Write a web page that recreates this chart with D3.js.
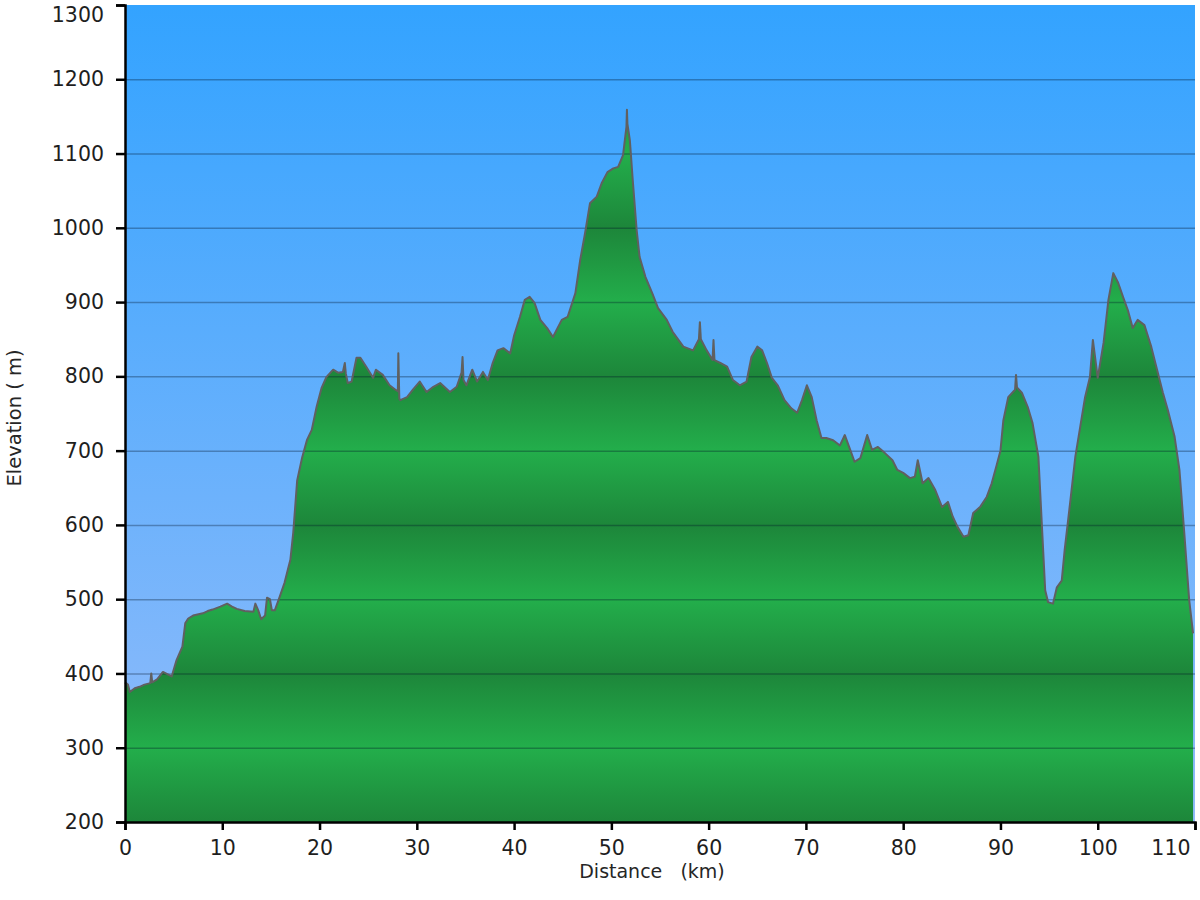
<!DOCTYPE html>
<html>
<head>
<meta charset="utf-8">
<script src="https://cdn.jsdelivr.net/npm/d3@7"></script>
<style>
html,body{margin:0;padding:0;background:#fff;}
svg{display:block;}
</style>
</head>
<body>
<svg id="chart" width="1200" height="900"></svg>
<script>
const distanceKm = [0,0.3,0.5,1.0,1.5,2.0,2.6,2.7,2.8,3.3,3.9,4.5,4.8,5.3,5.9,6.2,6.5,7.0,8.0,8.5,9.0,9.8,10.5,11.0,11.5,12.3,13.2,13.4,13.7,14.0,14.4,14.6,14.9,15.1,15.4,15.9,16.4,17.0,17.3,17.7,18.0,18.2,18.7,19.2,19.7,20.2,20.7,21.4,21.9,22.4,22.6,22.7,22.9,23.3,23.8,24.2,24.8,25.5,25.8,26.5,27.2,27.8,28.05,28.1,28.2,28.3,29.0,29.6,30.3,31.0,31.7,32.4,33.4,34.1,34.6,34.7,34.8,35.1,35.7,36.2,36.8,37.3,37.8,38.3,38.9,39.6,40.0,40.6,41.1,41.6,42.1,42.7,43.4,44.0,44.9,45.5,46.3,46.8,47.3,47.8,48.5,49.0,49.6,50.2,50.7,51.2,51.55,51.6,51.65,51.9,52.2,52.6,52.9,53.5,54.2,54.8,55.7,56.3,57.4,58.4,59.0,59.1,59.2,59.8,60.4,60.5,60.6,61.2,61.9,62.5,63.2,63.9,64.4,65.0,65.5,66.0,66.5,67.1,67.8,68.5,69.1,69.6,70.1,70.6,71.1,71.6,72.1,72.8,73.5,74.0,74.5,75.0,75.6,76.3,76.8,77.4,78.1,78.9,79.4,80.0,80.7,81.2,81.5,82.0,82.6,83.3,84.0,84.6,85.1,85.6,86.2,86.7,87.2,87.9,88.6,89.1,89.6,90.0,90.3,90.8,91.5,91.6,91.7,92.2,92.8,93.3,93.9,94.3,94.6,94.9,95.4,95.8,96.3,96.6,97.2,97.7,98.2,98.7,99.2,99.5,100.0,100.6,101.1,101.6,102.1,102.6,103.1,103.6,104.1,104.8,105.5,106.1,106.7,107.2,107.9,108.4,108.9,109.4,109.8];
const elevationM = [388,385,375,380,382,385,387,400,388,392,402,398,396,418,436,468,474,478,481,484,486,490,494,490,487,484,483,494,485,473,478,502,500,485,485,503,522,553,590,660,678,690,714,728,759,784,799,809,805,806,818,804,791,793,825,825,813,798,809,802,788,782,780,831,770,768,772,782,793,779,786,791,779,786,805,826,795,788,809,793,806,795,818,835,838,831,855,880,903,907,899,876,865,853,876,880,912,957,993,1033,1042,1060,1075,1080,1082,1098,1136,1159,1140,1118,1064,997,961,934,912,892,876,860,840,835,850,873,850,835,822,849,822,818,813,795,788,793,826,840,835,818,798,788,768,757,751,768,788,772,741,717,717,714,707,721,703,685,690,721,701,705,697,687,674,670,663,665,687,656,663,647,624,631,611,597,584,586,616,624,638,656,680,700,741,772,782,802,785,778,759,737,692,589,512,496,494,516,525,566,634,692,732,772,799,849,798,845,903,939,926,907,889,865,876,869,840,809,778,755,719,674,589,499,454];
const yTicks = [200,300,400,500,600,700,800,900,1000,1100,1200,1300];
const xTicks = [0,10,20,30,40,50,60,70,80,90,100,110];
const xTitle = "Distance   (km)";
const yTitle = "Elevation ( m)";

(function(){
const svg = d3.select("#chart");
const L = 125, R = 1195, T = 5, B = 822;
const FONT = "'DejaVu Sans', Verdana, sans-serif";
const x = d3.scaleLinear().domain([0,110]).range([L,R]);
const y = d3.scaleLinear().domain([200,1300]).range([B,T]);

const defs = svg.append("defs");
const sky = defs.append("linearGradient").attr("id","sky")
  .attr("gradientUnits","userSpaceOnUse").attr("x1",0).attr("x2",0)
  .attr("y1",T).attr("y2",B);
sky.append("stop").attr("offset","0").attr("stop-color","#33a3ff");
sky.append("stop").attr("offset","1").attr("stop-color","#93bcfa");

const grass = defs.append("linearGradient").attr("id","grass")
  .attr("gradientUnits","userSpaceOnUse").attr("x1",0).attr("x2",0)
  .attr("y1",y(1300)).attr("y2",y(200));
yTicks.slice().reverse().forEach(v=>{
  grass.append("stop").attr("offset",(y(v)-y(1300))/(y(200)-y(1300)))
    .attr("stop-color", (v/100)%2===0 ? "#1d863a" : "#23ae4b");
});

svg.append("rect").attr("x",L).attr("y",T).attr("width",R-L).attr("height",B-T)
  .attr("fill","url(#sky)");

const data = distanceKm.map((d,i)=>({d, e: elevationM[i]}));
const area = d3.area().x(p=>x(p.d)).y0(y(200)).y1(p=>y(p.e));
const line = d3.line().x(p=>x(p.d)).y(p=>y(p.e));

svg.append("path").datum(data).attr("d",area).attr("fill","url(#grass)");

svg.append("g").selectAll("line").data(yTicks.filter(v=>v>200 && v<1300)).join("line")
  .attr("x1",L).attr("x2",R).attr("y1",v=>y(v)+0.5).attr("y2",v=>y(v)+0.5)
  .attr("stroke","rgba(0,20,40,0.32)").attr("stroke-width",1.5);

svg.append("path").datum(data).attr("d",line).attr("fill","none")
  .attr("stroke","#606060").attr("stroke-width",2).attr("stroke-linejoin","round");

const yAxis = svg.append("g").attr("transform",`translate(${L},0)`)
  .call(d3.axisLeft(y).tickValues(yTicks).tickSize(9).tickPadding(12).tickFormat(d3.format("d")));
const xAxis = svg.append("g").attr("transform",`translate(0,${B})`)
  .call(d3.axisBottom(x).tickValues(xTicks).tickSize(8).tickPadding(10).tickFormat(d3.format("d")));
[yAxis,xAxis].forEach(g=>{
  g.select(".domain").attr("stroke","#000").attr("stroke-width",2.5);
  g.selectAll(".tick line").attr("stroke","#000").attr("stroke-width",2.5);
  g.selectAll("text").attr("fill","#1e1e1e").style("font-family",FONT).style("font-size","20.5px");
});
yAxis.selectAll(".tick").filter(d=>d===1300).select("text").attr("dy","0.8em");
xAxis.selectAll(".tick").filter(d=>d===110).select("text").attr("text-anchor","end").attr("x",-5);

svg.append("text").attr("x",652).attr("y",878).attr("text-anchor","middle")
  .style("white-space","pre").style("font-family",FONT).style("font-size","19px")
  .attr("fill","#262626").text(xTitle);
svg.append("text").attr("transform","translate(21,418) rotate(-90)").attr("text-anchor","middle")
  .style("white-space","pre").style("font-family",FONT).style("font-size","19.5px")
  .attr("fill","#262626").text(yTitle);
})();
</script>
</body>
</html>
